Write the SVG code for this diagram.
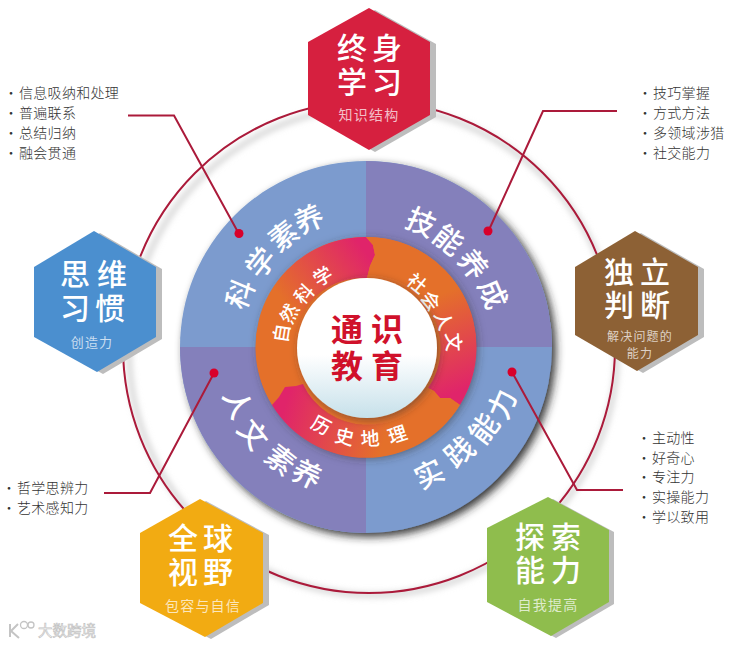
<svg xmlns="http://www.w3.org/2000/svg" width="732" height="646" viewBox="0 0 732 646">
<style>
text{font-family:"Noto Sans CJK SC","Noto Sans",sans-serif}
.t{font-size:30px;fill:#fff;text-anchor:middle;font-weight:500}
.s{font-size:14px;fill:#fff;fill-opacity:.72;text-anchor:middle;letter-spacing:1.2px}
.l{font-size:14px;fill:#333;letter-spacing:.3px;font-weight:300}
.q{font-size:29px;fill:#fff;text-anchor:middle;dominant-baseline:central;font-weight:500}
.r{font-size:19px;fill:#fff;text-anchor:middle;dominant-baseline:central;font-weight:500}
.c{font-size:32px;fill:#d0112b;text-anchor:middle;font-weight:700}
.sh{fill:#bdbdbd}
.w{fill:none;stroke:#ab1a3a;stroke-width:2}
.dot{fill:#d8002a}
</style>
<defs>
<filter id="soft" x="-20%" y="-20%" width="140%" height="140%"><feGaussianBlur stdDeviation="3"/></filter>
<filter id="disc" x="-20%" y="-20%" width="140%" height="140%"><feDropShadow dx="4" dy="4" stdDeviation="4" flood-color="#222" flood-opacity=".9"/></filter>
<filter id="mid" x="-20%" y="-20%" width="140%" height="140%"><feDropShadow dx="2" dy="2" stdDeviation="4" flood-color="#333" flood-opacity=".5"/></filter>
<linearGradient id="g1" gradientUnits="userSpaceOnUse" x1="265" y1="345" x2="375" y2="265"><stop offset="0" stop-color="#e4702a"/><stop offset=".3" stop-color="#e4702a"/><stop offset="1" stop-color="#e0246a"/></linearGradient>
<linearGradient id="g2" gradientUnits="userSpaceOnUse" x1="400" y1="265" x2="450" y2="395"><stop offset="0" stop-color="#e4702a"/><stop offset=".3" stop-color="#e4702a"/><stop offset="1" stop-color="#e0246a"/></linearGradient>
<linearGradient id="g3" gradientUnits="userSpaceOnUse" x1="285" y1="405" x2="410" y2="445"><stop offset="0" stop-color="#e0246a"/><stop offset=".8" stop-color="#e4702a"/><stop offset="1" stop-color="#e4702a"/></linearGradient>
<linearGradient id="g4" x1="0" y1="0" x2="0" y2="1"><stop offset="0" stop-color="#fff"/><stop offset=".55" stop-color="#fff"/><stop offset="1" stop-color="#c6e0ea"/></linearGradient>
</defs>
<rect width="732" height="646" fill="#fff"/>

<g id="ring">
<circle cx="373" cy="351" r="244" fill="none" stroke="#d2d2d2" stroke-width="5" filter="url(#soft)"/>
<circle class="w" cx="369" cy="347" r="246"/>
</g>

<g id="disc">
<circle cx="366" cy="347" r="186" fill="#7b9bce" filter="url(#disc)"/>
<path d="M366 347V161A186 186 0 0 1 552 347Z" fill="#8480bb"/>
<path d="M366 347V533A186 186 0 0 1 180 347Z" fill="#8480bb"/>
<text class="q" transform="translate(238 293) rotate(-67)">科</text>
<text class="q" transform="translate(259 261) rotate(-52)">学</text>
<text class="q" transform="translate(282 234) rotate(-38)">素</text>
<text class="q" transform="translate(308 217) rotate(-24)">养</text>
<text class="q" transform="translate(422 220) rotate(24)">技</text>
<text class="q" transform="translate(450 238) rotate(38)">能</text>
<text class="q" transform="translate(475 263) rotate(52)">养</text>
<text class="q" transform="translate(495 293) rotate(67)">成</text>
<text class="q" transform="translate(428 472) rotate(-26)">实</text>
<text class="q" transform="translate(458 450) rotate(-40)">践</text>
<text class="q" transform="translate(482 427) rotate(-53)">能</text>
<text class="q" transform="translate(500 403) rotate(-67)">力</text>
<text class="q" transform="translate(240 403) rotate(66)">人</text>
<text class="q" transform="translate(255 433) rotate(52)">文</text>
<text class="q" transform="translate(282 458) rotate(38)">素</text>
<text class="q" transform="translate(308 472) rotate(25)">养</text>
</g>

<g id="middle">
<circle cx="366" cy="347" r="110" fill="#e4702a" filter="url(#mid)"/>
<path d="M272 405A110 110 0 0 1 366 237L373 245L375 255L370 266L367 278A70 70 0 0 0 303 384L296 386L285 387L279 397Z" fill="url(#g1)"/>
<path d="M366 237A110 110 0 0 1 460 405L450 398L440 398L434 391L428 388A70 70 0 0 0 367 278L370 266L375 255L373 245Z" fill="url(#g2)"/>
<path d="M272 405L279 397L285 387L296 386L303 384A70 70 0 0 0 428 388L434 391L440 398L450 398L460 405A110 110 0 0 1 272 405Z" fill="url(#g3)"/>
<text class="r" transform="translate(280 333) rotate(-81)">自</text>
<text class="r" transform="translate(288 313) rotate(-64)">然</text>
<text class="r" transform="translate(303 293) rotate(-47)">科</text>
<text class="r" transform="translate(322 275) rotate(-31)">学</text>
<text class="r" transform="translate(418 282) rotate(39)">社</text>
<text class="r" transform="translate(432 300) rotate(54)">会</text>
<text class="r" transform="translate(445 320) rotate(70)">人</text>
<text class="r" transform="translate(455 342) rotate(87)">文</text>
<text class="r" transform="translate(322 424) rotate(28)">历</text>
<text class="r" transform="translate(345 435) rotate(13)">史</text>
<text class="r" transform="translate(370 437) rotate(-3)">地</text>
<text class="r" transform="translate(397 433) rotate(-18)">理</text>
</g>

<g id="center">
<circle cx="367" cy="348" r="70" fill="url(#g4)" filter="url(#mid)"/>
<text class="c" x="347 387" y="341">通识</text>
<text class="c" x="347 387" y="378">教育</text>
</g>

<g id="connectors">
<path class="w" d="M128 115.500H174L239 234"/>
<path class="w" d="M617 111H543L488 232"/>
<path class="w" d="M623 490H577L512 372"/>
<path class="w" d="M104 493H150L214 373"/>
<circle class="dot" cx="239" cy="233.500" r="4.500"/>
<circle class="dot" cx="488" cy="231" r="4.500"/>
<circle class="dot" cx="512" cy="372" r="4.500"/>
<circle class="dot" cx="214" cy="373" r="4.500"/>
</g>

<g id="n-zhongshen">
<path class="sh" d="M375 10L436 44V117L375 152L314 117V44Z"/>
<path fill="#d6203f" d="M369 8L430 42V115L369 150L308 115V42Z"/>
<text class="t" x="352 387" y="59">终身</text>
<text class="t" x="352 387" y="93">学习</text>
<text class="s" x="369" y="120">知识结构</text>
</g>
<g id="n-siwei">
<path class="sh" d="M100 233L162 269V339L103 374L40 339V269Z"/>
<path fill="#4b8fcf" d="M94 231L156 267V337L97 372L34 337V267Z"/>
<text class="t" x="75 112" y="285">思维</text>
<text class="t" x="75 110" y="319">习惯</text>
<text class="s" x="92" y="347" style="font-size:13px">创造力</text>
</g>
<g id="n-duli">
<path class="sh" d="M641 233L704 269V337L643 373L581 337V269Z"/>
<path fill="#8d6135" d="M635 231L698 267V335L637 371L575 335V267Z"/>
<text class="t" x="619 655" y="283">独立</text>
<text class="t" x="619 655" y="316">判断</text>
<text class="s" x="640" y="341" style="font-size:12px">解决问题的</text>
<text class="s" x="640" y="358" style="font-size:12px">能力</text>
</g>
<g id="n-quanqiu">
<path class="sh" d="M206 501L269 535V605L211 639L146 605V535Z"/>
<path fill="#f2ab12" d="M200 499L263 533V603L205 637L140 603V533Z"/>
<text class="t" x="183 218" y="549">全球</text>
<text class="t" x="183 218" y="583">视野</text>
<text class="s" x="203" y="611">包容与自信</text>
</g>
<g id="n-tansuo">
<path class="sh" d="M553 499L614 532V604L556 638L492 604V530Z"/>
<path fill="#8fbd4d" d="M548 497L609 530V602L551 636L487 602V528Z"/>
<text class="t" x="530 566" y="548">探索</text>
<text class="t" x="530 566" y="581">能力</text>
<text class="s" x="548" y="610">自我提高</text>
</g>

<g id="list-tl">
<text class="l" x="4 19" y="98">·信息吸纳和处理</text>
<text class="l" x="4 19" y="118">·普遍联系</text>
<text class="l" x="4 19" y="138">·总结归纳</text>
<text class="l" x="4 19" y="158">·融会贯通</text>
</g>
<g id="list-tr">
<text class="l" x="638 653" y="98">·技巧掌握</text>
<text class="l" x="638 653" y="118">·方式方法</text>
<text class="l" x="638 653" y="138">·多领域涉猎</text>
<text class="l" x="638 653" y="158">·社交能力</text>
</g>
<g id="list-br">
<text class="l" x="637 652" y="443">·主动性</text>
<text class="l" x="637 652" y="463">·好奇心</text>
<text class="l" x="637 652" y="482">·专注力</text>
<text class="l" x="637 652" y="502">·实操能力</text>
<text class="l" x="637 652" y="522">·学以致用</text>
</g>
<g id="list-bl">
<text class="l" x="2 17" y="493">·哲学思辨力</text>
<text class="l" x="2 17" y="513">·艺术感知力</text>
</g>

<g id="watermark" fill="none" stroke="#c4c4c4" stroke-width="1.300">
<path d="M10 624V637M11 631L18 624M11 631L19 638" stroke-width="2"/>
<circle cx="24" cy="625" r="3.500"/>
<circle cx="31" cy="625" r="3"/>
<text x="38" y="636" style="font-size:14.500px;fill:#fff;stroke:#c4c4c4;stroke-width:.7px">大数跨境</text>
</g>
</svg>
